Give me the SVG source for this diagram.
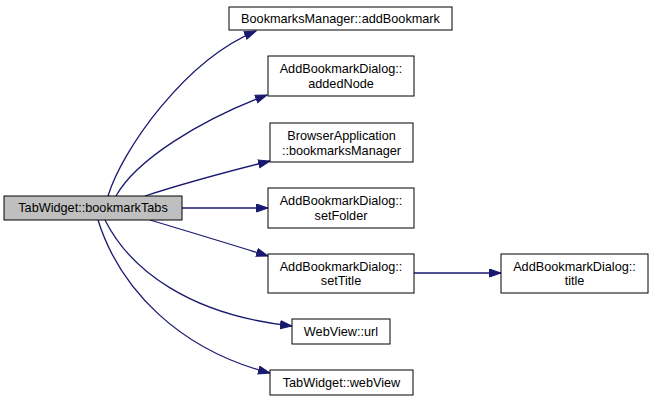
<svg xmlns="http://www.w3.org/2000/svg" width="653" height="401" viewBox="0 0 653 401">
<style>
.n rect{fill:#fff;stroke:#000;stroke-width:1}
.n.main rect{fill:#bfbfbf}
text{font-family:"Liberation Sans",Arial,sans-serif;font-size:12.7px;fill:#000;text-anchor:middle}
.e path{fill:none;stroke:#191970;stroke-width:1.3}
</style>
<defs>
<marker id="arr" markerWidth="13" markerHeight="10" refX="12" refY="4.5" orient="auto" markerUnits="userSpaceOnUse">
<path d="M0.5,0.5 L12,4.5 L0.5,8.5 z" fill="#191970" stroke="#191970"/>
</marker>
</defs>
<rect width="653" height="401" fill="#fff"/>
<g id="edges" class="e">
<path d="M108,196 C122,150 185,60 256,31" marker-end="url(#arr)"/>
<path d="M116,196 C136,160 200,120 267,95" marker-end="url(#arr)"/>
<path d="M145,196 C185,183 230,171 270,161" marker-end="url(#arr)"/>
<path d="M182,208 L268,208" marker-end="url(#arr)"/>
<path d="M150,220 C190,232 230,244 268,256" marker-end="url(#arr)"/>
<path d="M105,220 C130,270 190,315 292,326" marker-end="url(#arr)"/>
<path d="M98,220 C120,290 180,350 270,373" marker-end="url(#arr)"/>
<path d="M414,273 L501,273" marker-end="url(#arr)"/>
</g>
<g id="n0" class="n main"><rect x="4" y="196" width="178" height="24"/><text x="93" y="212">TabWidget::bookmarkTabs</text></g>
<g id="n1" class="n"><rect x="229" y="7" width="223" height="23"/><text x="340.5" y="23">BookmarksManager::addBookmark</text></g>
<g id="n2" class="n"><rect x="268" y="56" width="146" height="40"/><text x="341" y="73">AddBookmarkDialog::</text><text x="341" y="87.5">addedNode</text></g>
<g id="n3" class="n"><rect x="270" y="123" width="143" height="39"/><text x="341.5" y="140">BrowserApplication</text><text x="341.5" y="154.5">::bookmarksManager</text></g>
<g id="n4" class="n"><rect x="268" y="188" width="146" height="40"/><text x="341" y="205">AddBookmarkDialog::</text><text x="341" y="219.5">setFolder</text></g>
<g id="n5" class="n"><rect x="268" y="254" width="146" height="39"/><text x="341" y="270.5">AddBookmarkDialog::</text><text x="341" y="285">setTitle</text></g>
<g id="n6" class="n"><rect x="292" y="319" width="98" height="25"/><text x="341" y="336">WebView::url</text></g>
<g id="n7" class="n"><rect x="270" y="370" width="143" height="25"/><text x="341.5" y="387">TabWidget::webView</text></g>
<g id="n8" class="n"><rect x="501" y="254" width="147" height="39"/><text x="574.5" y="270.5">AddBookmarkDialog::</text><text x="574.5" y="285">title</text></g>
</svg>
